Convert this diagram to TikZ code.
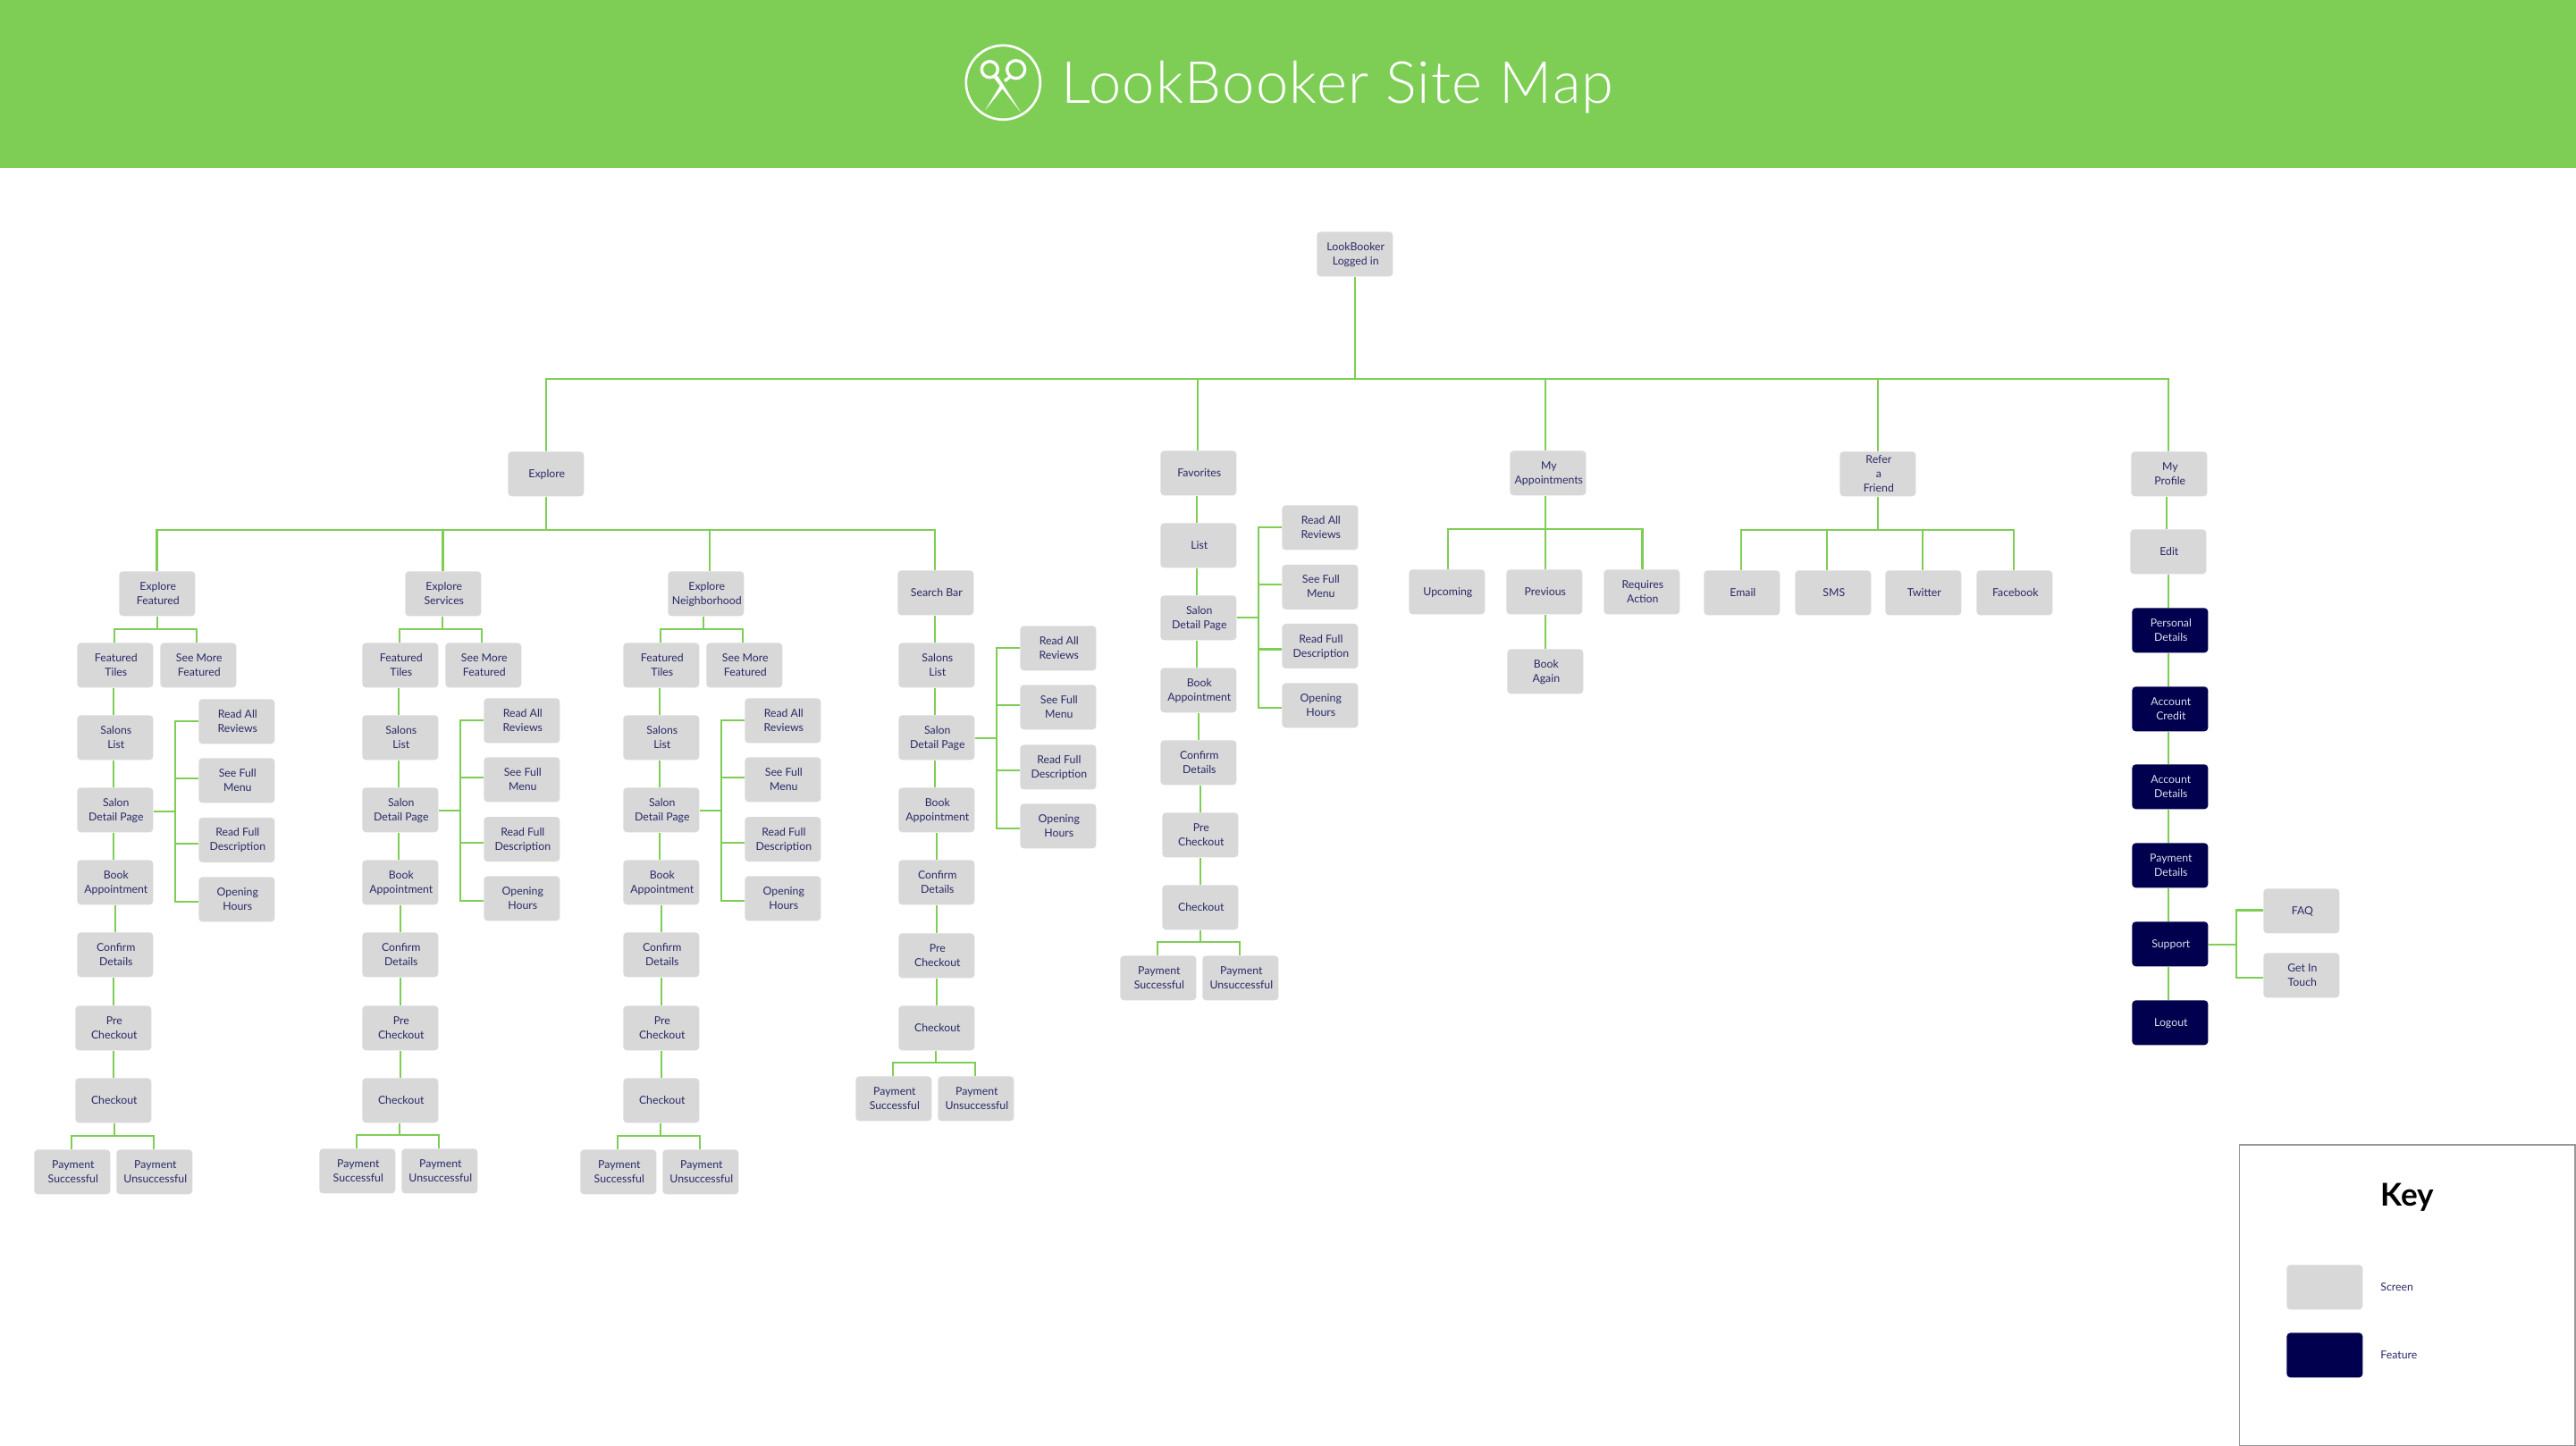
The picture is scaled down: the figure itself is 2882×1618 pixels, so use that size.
\documentclass[tikz,border=0pt]{standalone}
\usepackage{fontspec}
\setmainfont{Lato}
\newfontfamily\lightfont[LetterSpace=2]{Lato Light}
\definecolor{lbgreen}{HTML}{7ECE56}
\definecolor{lbgrey}{HTML}{D8D8D8}
\definecolor{lbnavy}{HTML}{00004F}
\definecolor{lbink}{HTML}{2A2A68}
\definecolor{lbpale}{HTML}{DDDDEA}
\definecolor{lbedge}{HTML}{979797}
% 1px of the reference = 0.02cm = 0.5690pt
\newcommand\tb[1]{\vbox{\kern1.0pt\hbox{\kern1.1pt\begin{tabular}{@{}c@{}}#1\end{tabular}}}}
\newcommand\bx[4]{\node[screen,anchor=north west] (#1) at (#2,#3) {\tb{#4}};}
\newcommand\fx[4]{\node[feature,anchor=north west] (#1) at (#2,#3) {\tb{#4}};}
\newcommand\vl[3]{\draw[ln] (#1.south -| #3,0) -- (#2.north -| #3,0);}
\newcommand\vfork[4]{\foreach \cc/\xx in {#4}{\draw[ln] (#1.south -| #2,0) -- (#2,#3) -- (\xx,#3) -- (\cc.north -| \xx,0);}}
\newcommand\hfork[4]{\foreach \cc/\yy in {#4}{\draw[ln] (#1.east |- 0,#2) -- (#3,#2) -- (#3,\yy) -- (\cc.west |- 0,\yy);}}
\tikzset{
  boxbase/.style={rectangle,rounded corners=2.3pt,inner sep=0pt,minimum width=48.37pt,minimum height=28.45pt,
    font=\fontsize{7}{9.1}\selectfont},
  screen/.style={boxbase,fill=lbgrey,text=lbink},
  feature/.style={boxbase,fill=lbnavy,text=lbpale},
  ln/.style={draw=lbgreen,line width=1.3pt,line join=miter},
  keylabel/.style={anchor=west,inner sep=0pt,text=lbink,font=\fontsize{7}{9.1}\selectfont},
}
\begin{document}
\begin{tikzpicture}[x=0.02cm,y=-0.02cm]
\useasboundingbox (0,0) rectangle (2882,1618);
\fill[lbgreen] (0,0) rectangle (2882,188);
% logo
\draw[white,line width=1.5pt] (1122.3,92.3) circle (41.5);
\draw[white,line width=1.9pt] (1107.3,77.7) circle (9);
\draw[white,line width=1.9pt] (1136.7,77.7) circle (10);
\fill[white] (1112,87.3) -- (1116,84.7) -- (1142.3,126) -- cycle;
\fill[white] (1118.7,96) -- (1121.7,99) -- (1102.3,123.3) -- cycle;
\draw[white,line width=1.9pt] (1130.5,85.5) -- (1124,90.7);
\node[anchor=base west,inner sep=0pt,text=white,font=\lightfont\fontsize{37}{40}\selectfont] (title) at (1187,115.5) {LookBooker Site Map};
% root
\bx{root}{1473}{259}{LookBooker\\Logged in}
% level 1
\bx{explore}{568}{505}{Explore}
\bx{fav}{1298}{504}{Favorites}
\bx{appts}{1689}{504}{My\\Appointments}
\bx{refer}{2058}{505}{Refer\\a\\Friend}
\bx{profile}{2384}{505}{My\\Profile}
% column a
\bx{a0}{133}{639}{Explore\\Featured}
\bx{aft}{86}{719}{Featured\\Tiles}
\bx{asm}{179}{719}{See More\\Featured}
\bx{asl}{86}{800}{Salons\\List}
\bx{asd}{86}{881}{Salon\\Detail Page}
\bx{aba}{86}{962}{Book\\Appointment}
\bx{acd}{86}{1043}{Confirm\\Details}
\bx{apc}{84}{1125}{Pre\\Checkout}
\bx{aco}{84}{1206}{Checkout}
\bx{aps}{38}{1286}{Payment\\Successful}
\bx{apu}{130}{1286}{Payment\\Unsuccessful}
\bx{ara}{222}{782}{Read All\\Reviews}
\bx{asf}{222}{848}{See Full\\Menu}
\bx{arf}{222}{914.5}{Read Full\\Description}
\bx{aoh}{222}{981}{Opening\\Hours}
% column b
\bx{b0}{453}{639}{Explore\\Services}
\bx{bft}{405}{719}{Featured\\Tiles}
\bx{bsm}{498}{719}{See More\\Featured}
\bx{bsl}{405}{800}{Salons\\List}
\bx{bsd}{405}{881}{Salon\\Detail Page}
\bx{bba}{405}{962}{Book\\Appointment}
\bx{bcd}{405}{1043}{Confirm\\Details}
\bx{bpc}{405}{1125}{Pre\\Checkout}
\bx{bco}{405}{1206}{Checkout}
\bx{bps}{357}{1285}{Payment\\Successful}
\bx{bpu}{449}{1285}{Payment\\Unsuccessful}
\bx{bra}{541}{781}{Read All\\Reviews}
\bx{bsf}{541}{847}{See Full\\Menu}
\bx{brf}{541}{913.7}{Read Full\\Description}
\bx{boh}{541}{980}{Opening\\Hours}
% column c
\bx{c0}{747}{639}{Explore\\Neighborhood}
\bx{cft}{697}{719}{Featured\\Tiles}
\bx{csm}{790}{719}{See More\\Featured}
\bx{csl}{697}{800}{Salons\\List}
\bx{csd}{697}{881}{Salon\\Detail Page}
\bx{cba}{697}{962}{Book\\Appointment}
\bx{ccd}{697}{1043}{Confirm\\Details}
\bx{cpc}{697}{1125}{Pre\\Checkout}
\bx{cco}{697}{1206}{Checkout}
\bx{cps}{649}{1286}{Payment\\Successful}
\bx{cpu}{741}{1286}{Payment\\Unsuccessful}
\bx{cra}{833}{781}{Read All\\Reviews}
\bx{csf}{833}{847}{See Full\\Menu}
\bx{crf}{833}{913.7}{Read Full\\Description}
\bx{coh}{833}{980}{Opening\\Hours}
% column d
\bx{d0}{1004}{638}{Search Bar}
\bx{dsl}{1005}{719}{Salons\\List}
\bx{dsd}{1005}{800}{Salon\\Detail Page}
\bx{dba}{1005}{881}{Book\\Appointment}
\bx{dcd}{1005}{962}{Confirm\\Details}
\bx{dpc}{1005}{1044}{Pre\\Checkout}
\bx{dco}{1005}{1125}{Checkout}
\bx{dps}{957}{1204}{Payment\\Successful}
\bx{dpu}{1049}{1204}{Payment\\Unsuccessful}
\bx{dra}{1141}{700}{Read All\\Reviews}
\bx{dsf}{1141}{766}{See Full\\Menu}
\bx{drf}{1141}{833}{Read Full\\Description}
\bx{doh}{1141}{899}{Opening\\Hours}
% favorites
\bx{el}{1298}{585}{List}
\bx{esd}{1298}{666}{Salon\\Detail Page}
\bx{eba}{1298}{747}{Book\\Appointment}
\bx{ecd}{1298}{828}{Confirm\\Details}
\bx{epc}{1300}{909}{Pre\\Checkout}
\bx{eco}{1300}{990}{Checkout}
\bx{eps}{1253}{1069}{Payment\\Successful}
\bx{epu}{1345}{1069}{Payment\\Unsuccessful}
\bx{era}{1434}{565}{Read All\\Reviews}
\bx{esf}{1434}{631.5}{See Full\\Menu}
\bx{erf}{1434}{697.6}{Read Full\\Description}
\bx{eoh}{1434}{764}{Opening\\Hours}
% appointments
\bx{up}{1576}{637}{Upcoming}
\bx{pr}{1685}{637}{Previous}
\bx{rq}{1794}{637}{Requires\\Action}
\bx{bg}{1686}{726}{Book\\Again}
% refer
\bx{em}{1906}{638}{Email}
\bx{sms}{2008}{638}{SMS}
\bx{tw}{2109}{638}{Twitter}
\bx{fb}{2211}{638}{Facebook}
% profile
\bx{edit}{2383}{592}{Edit}
\fx{pd}{2385}{680}{Personal\\Details}
\fx{ac}{2385}{768}{Account\\Credit}
\fx{ad}{2385}{855}{Account\\Details}
\fx{pay}{2385}{943}{Payment\\Details}
\fx{sup}{2385}{1031}{Support}
\fx{lo}{2385}{1119}{Logout}
\bx{faq}{2532}{994}{FAQ}
\bx{git}{2532}{1066}{Get In\\Touch}
% connectors: top levels
\vfork{root}{1516}{424}{explore/611,fav/1340,appts/1729,refer/2101,profile/2426}
\vfork{explore}{611}{593}{a0/175.5,b0/495.5,c0/794,d0/1046}
% column a
\vfork{a0}{176}{704}{aft/128,asm/220}
\vl{aft}{asl}{127}\vl{asl}{asd}{127}\vl{asd}{aba}{127}\vl{aba}{acd}{129}\vl{acd}{apc}{127}\vl{apc}{aco}{127}
\vfork{aco}{128}{1271}{aps/80,apu/172}
\hfork{asd}{907.7}{196}{ara/807,asf/871,arf/944,aoh/1009}
% column b
\vfork{b0}{495}{704}{bft/447,bsm/539}
\vl{bft}{bsl}{446}\vl{bsl}{bsd}{446}\vl{bsd}{bba}{446}\vl{bba}{bcd}{448}\vl{bcd}{bpc}{448}\vl{bpc}{bco}{448}
\vfork{bco}{447}{1270}{bps/399,bpu/491}
\hfork{bsd}{906.7}{514.7}{bra/806,bsf/870,brf/943,boh/1008}
% column c
\vfork{c0}{787}{704}{cft/739,csm/831}
\vl{cft}{csl}{738}\vl{csl}{csd}{738}\vl{csd}{cba}{738}\vl{cba}{ccd}{740}\vl{ccd}{cpc}{740}\vl{cpc}{cco}{740}
\vfork{cco}{739}{1270.7}{cps/691,cpu/783}
\hfork{csd}{906.7}{806.7}{cra/806,csf/869.7,crf/942.7,coh/1007.7}
% column d
\vl{d0}{dsl}{1046}\vl{dsl}{dsd}{1046}\vl{dsd}{dba}{1046}\vl{dba}{dcd}{1048}\vl{dcd}{dpc}{1048}\vl{dpc}{dco}{1048}
\vfork{dco}{1047}{1189}{dps/999,dpu/1091}
\hfork{dsd}{825.7}{1115}{dra/724.7,dsf/788.7,drf/862,doh/926.7}
% favorites
\vl{fav}{el}{1339}\vl{el}{esd}{1339}\vl{esd}{eba}{1339}\vl{eba}{ecd}{1341}\vl{ecd}{epc}{1343}\vl{epc}{eco}{1343}
\vfork{eco}{1343}{1053.7}{eps/1295,epu/1387}
\hfork{esd}{691}{1408}{era/590,esf/654,erf/726.6,eoh/792}
% appointments
\vfork{appts}{1729}{592}{up/1620,pr/1729,rq/1837.5}
\vl{pr}{bg}{1729}
% refer
\vfork{refer}{2101}{593}{em/1948,sms/2044,tw/2151,fb/2253}
% profile
\vl{profile}{edit}{2424}\vl{edit}{pd}{2426}\vl{pd}{ac}{2426}\vl{ac}{ad}{2426}\vl{ad}{pay}{2426}\vl{pay}{sup}{2426}\vl{sup}{lo}{2426}
\hfork{sup}{1057}{2502}{faq/1018.6,git/1094}
% key
\draw[lbedge,line width=0.7pt] (2505.5,1281) rectangle (2881,1617.5);
\node[anchor=base west,inner sep=0pt,text=black,font=\bfseries\fontsize{20}{24}\selectfont] (keyt) at (2663,1349) {Key};
\node[screen,anchor=north west] (ks) at (2558,1415) {};
\node[feature,anchor=north west] (kf) at (2558,1491) {};
\node[keylabel] (ksl) at (2663,1440) {Screen};
\node[keylabel] (kfl) at (2663,1516) {Feature};
\end{tikzpicture}
\end{document}
